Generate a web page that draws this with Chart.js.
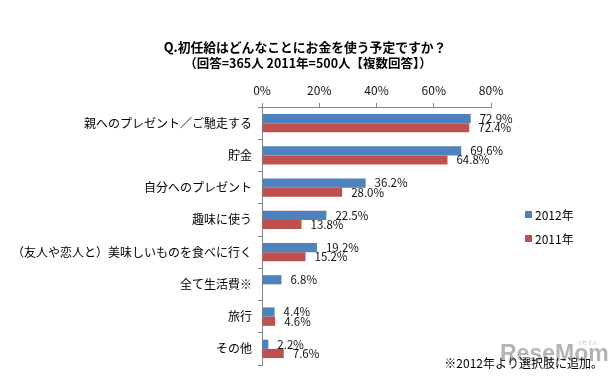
<!DOCTYPE html>
<html><head><meta charset="utf-8">
<script src="https://cdn.jsdelivr.net/npm/chart.js@4/dist/chart.umd.min.js"></script>
<style>html,body{margin:0;padding:0;background:#fff;overflow:hidden}#wrap{width:612px;height:379px;position:relative}</style>
</head><body><div id="wrap"><canvas id="c" width="612" height="379"></canvas></div>
<script>
const categories = ['親へのプレゼント／ご馳走する','貯金','自分へのプレゼント','趣味に使う','（友人や恋人と）美味しいものを食べに行く','全て生活費※','旅行','その他'];
const values2012 = [72.9, 69.6, 36.2, 22.5, 19.2, 6.8, 4.4, 2.2];
const values2011 = [72.4, 64.8, 28.0, 13.8, 15.2, null, 4.6, 7.6];
const seriesNames = ['2012年', '2011年'];
const xTickValues = [0, 20, 40, 60, 80];
const titleLines = ['Q.初任給はどんなことにお金を使う予定ですか？', '（回答=365人 2011年=500人【複数回答】）'];
const noteText = '※2012年より選択肢に追加。';
const watermarkText = 'ReseMom';

const FONT = '"Noto Sans CJK JP", "Noto Sans", sans-serif';
const BLUE = '#4F81BD', RED = '#C0504D', AXIS = '#868686';

const extras = {
  id: 'extras',
  afterDatasetsDraw(chart) {
    const ctx = chart.ctx;
    ctx.save();
    ctx.font = '11.5px ' + FONT;
    ctx.fillStyle = '#111';
    ctx.textAlign = 'left';
    ctx.textBaseline = 'middle';
    chart.data.datasets.forEach((ds, di) => {
      const meta = chart.getDatasetMeta(di);
      meta.data.forEach((el, i) => {
        const v = ds.data[i];
        if (v === null || v === undefined) return;
        ctx.fillText(v.toFixed(1) + '%', el.x + 9, el.y);
      });
    });
    ctx.restore();
  },
  afterDraw(chart) {
    const ctx = chart.ctx;
    ctx.save();
    // title
    ctx.fillStyle = '#000';
    ctx.textAlign = 'center';
    ctx.textBaseline = 'middle';
    ctx.font = 'bold 12.8px ' + FONT;
    ctx.fillText(titleLines[0], 305, 47);
    ctx.font = 'bold 12.5px ' + FONT;
    ctx.fillText(titleLines[1], 308, 63);
    // legend
    ctx.textAlign = 'left';
    ctx.font = '12px ' + FONT;
    chart.data.datasets.forEach((ds, i) => {
      const y = 215 + i * 24;
      ctx.fillStyle = ds.backgroundColor;
      ctx.fillRect(525, y - 4, 7, 7);
      ctx.fillStyle = '#000';
      ctx.fillText(ds.label, 535, y);
    });
    // watermark
    ctx.font = 'bold 23px "Liberation Sans", Arial, sans-serif';
    ctx.fillStyle = 'rgba(130,130,130,0.6)';
    ctx.fillText(watermarkText, 500, 355);
    ctx.font = '5px ' + FONT;
    ctx.fillText('リセマム', 577, 342);
    // note
    ctx.font = '12px ' + FONT;
    ctx.fillStyle = '#000';
    ctx.textAlign = 'right';
    ctx.fillText(noteText, 603, 363);
    ctx.restore();
  }
};

new Chart(document.getElementById('c'), {
  type: 'bar',
  data: {
    labels: categories,
    datasets: [
      { label: seriesNames[0], data: values2012, backgroundColor: BLUE },
      { label: seriesNames[1], data: values2011, backgroundColor: RED }
    ]
  },
  options: {
    indexAxis: 'y',
    responsive: false,
    animation: false,
    devicePixelRatio: 1,
    layout: { padding: { top: 0, left: 0, right: 121, bottom: 14 } },
    datasets: { bar: { categoryPercentage: 0.57, barPercentage: 1.0 } },
    plugins: { legend: { display: false }, title: { display: false }, tooltip: { enabled: false } },
    scales: {
      x: {
        position: 'top',
        min: 0, max: 80,
        afterBuildTicks(scale) { scale.ticks = xTickValues.map(v => ({ value: v })); },
        afterFit(scale) { scale.height = 107; },
        ticks: { callback: v => v + '%', color: '#111', font: { family: FONT, size: 12 }, padding: 5 },
        grid: { drawOnChartArea: false, drawTicks: true, tickLength: 4, color: AXIS },
        border: { display: true, color: AXIS }
      },
      y: {
        afterFit(scale) { scale.width = 262; },
        ticks: { color: '#000', font: { family: FONT, size: 12 }, padding: 6 },
        grid: { drawOnChartArea: false, drawTicks: true, tickLength: 4, color: AXIS, offset: true },
        border: { display: true, color: AXIS }
      }
    }
  },
  plugins: [extras]
});
</script></body></html>
